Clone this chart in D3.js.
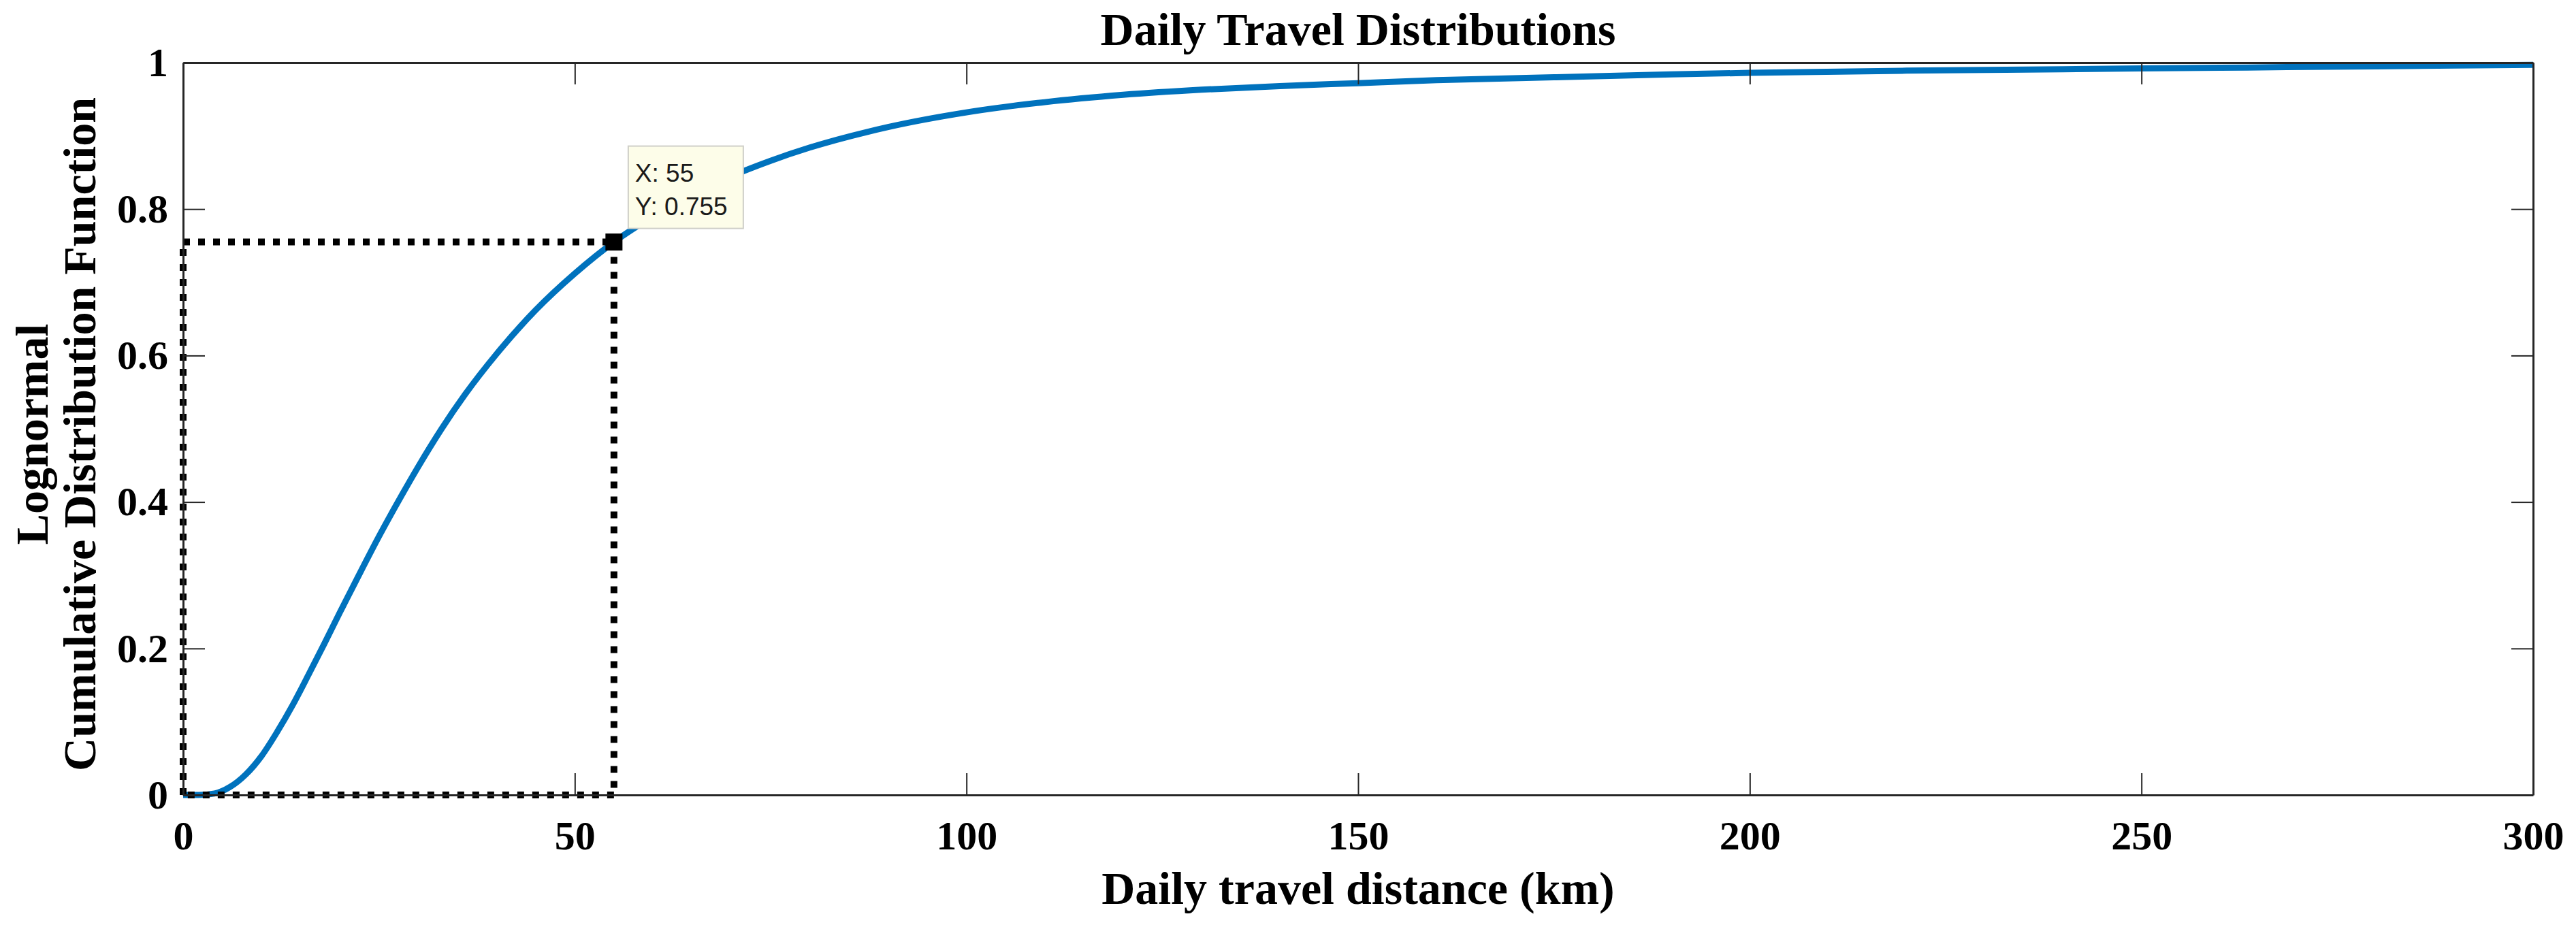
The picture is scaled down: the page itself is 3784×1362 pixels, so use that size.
<!DOCTYPE html>
<html>
<head>
<meta charset="utf-8">
<script src="https://cdn.jsdelivr.net/npm/d3@7"></script>
<style>
  html, body { margin: 0; padding: 0; background: #fff; }
  svg { display: block; }
</style>
</head>
<body>
<svg id="chart" width="3784" height="1362"></svg>
<script>
// ---- data ----
const distanceKm = [0, 2, 4, 6, 8, 10, 12, 14, 16, 18, 20, 22, 25, 28, 30, 33, 36, 40, 45, 50, 55, 60, 65, 70, 75, 80, 90, 100, 110, 120, 130, 140, 150, 160, 175, 190, 200, 220, 240, 260, 280, 300];
const cdfValues  = [0, 0.0001, 0.002, 0.011, 0.028, 0.053, 0.086, 0.123, 0.164, 0.206, 0.249, 0.291, 0.353, 0.411, 0.448, 0.5, 0.547, 0.602, 0.662, 0.712, 0.755, 0.79, 0.82, 0.845, 0.866, 0.884, 0.912, 0.932, 0.946, 0.956, 0.963, 0.968, 0.972, 0.976, 0.980, 0.984, 0.986, 0.989, 0.991, 0.993, 0.995, 0.997];
const xTickValues = [0, 50, 100, 150, 200, 250, 300];
const xTickLabels = ["0", "50", "100", "150", "200", "250", "300"];
const yTickValues = [0, 0.2, 0.4, 0.6, 0.8, 1];
const yTickLabels = ["0", "0.2", "0.4", "0.6", "0.8", "1"];
const markedX = 55;
const markedY = 0.755;
const tipLines = ["X: 55", "Y: 0.755"];
const titleText = "Daily Travel Distributions";
const xLabelText = "Daily travel distance (km)";
const yLabelLines = ["Lognormal", "Cumulative Distribution Function"];

// ---- layout ----
const plot = { left: 269, right: 3721, top: 92, bottom: 1168 };
const serif = "'Liberation Serif', 'Times New Roman', serif";
const sans = "'Liberation Sans', Arial, Helvetica, sans-serif";
const axisColor = "#262626";
const tickLen = 32;

const svg = d3.select("#chart");

const x = d3.scaleLinear().domain([0, 300]).range([plot.left, plot.right]);
const y = d3.scaleLinear().domain([0, 1]).range([plot.bottom, plot.top]);

// curve
const line = d3.line()
  .x((d, i) => x(distanceKm[i]))
  .y((d, i) => y(cdfValues[i]))
  .curve(d3.curveMonotoneX);

svg.append("path")
  .datum(cdfValues)
  .attr("d", line)
  .attr("fill", "none")
  .attr("stroke", "#0072BD")
  .attr("stroke-width", 9)
  .attr("stroke-linejoin", "round");

// dotted rectangle around the marked point
const dotted = svg.append("g")
  .attr("stroke", "#000")
  .attr("stroke-width", 10)
  .attr("stroke-dasharray", "10,12")
  .attr("fill", "none");
const rectPts = [[0, 0], [0, markedY], [markedX, markedY], [markedX, 0], [0, 0]];
for (let i = 0; i < rectPts.length - 1; i++) {
  dotted.append("line")
    .attr("x1", x(rectPts[i][0])).attr("y1", y(rectPts[i][1]))
    .attr("x2", x(rectPts[i + 1][0])).attr("y2", y(rectPts[i + 1][1]));
}

// axes (MATLAB-like box with inward ticks)
const axBottom = d3.axisBottom(x).tickValues(xTickValues).tickFormat((d, i) => xTickLabels[i]).tickSizeInner(-tickLen).tickSizeOuter(0).tickPadding(37);
const axTop = d3.axisTop(x).tickValues(xTickValues).tickFormat("").tickSizeInner(-tickLen).tickSizeOuter(0);
const axLeft = d3.axisLeft(y).tickValues(yTickValues).tickFormat((d, i) => yTickLabels[i]).tickSizeInner(-tickLen).tickSizeOuter(0).tickPadding(22);
const axRight = d3.axisRight(y).tickValues(yTickValues).tickFormat("").tickSizeInner(-tickLen).tickSizeOuter(0);

function styleAxis(g) {
  g.select(".domain").attr("stroke", axisColor).attr("stroke-width", 3);
  g.selectAll(".tick line").attr("stroke", axisColor).attr("stroke-width", 2);
  g.selectAll(".tick text")
    .attr("fill", "#000")
    .style("font-family", serif)
    .style("font-weight", "bold")
    .style("font-size", "60px");
}

svg.append("g").attr("transform", `translate(0,${plot.bottom})`).call(axBottom).call(styleAxis);
svg.append("g").attr("transform", `translate(0,${plot.top})`).call(axTop).call(styleAxis);
svg.append("g").attr("transform", `translate(${plot.left},0)`).call(axLeft).call(styleAxis);
svg.append("g").attr("transform", `translate(${plot.right},0)`).call(axRight).call(styleAxis);

// marker
const mx = x(markedX), my = y(markedY);
svg.append("rect")
  .attr("x", mx - 12.5).attr("y", my - 12.5)
  .attr("width", 25).attr("height", 25)
  .attr("fill", "#000");

// datatip
const tip = svg.append("g").attr("transform", `translate(${mx + 21},${my - 141})`);
tip.append("rect")
  .attr("x", 0).attr("y", 0).attr("width", 169).attr("height", 121)
  .attr("fill", "#FDFDE9").attr("stroke", "#CFCFC8").attr("stroke-width", 2);
tip.selectAll("text").data(tipLines).join("text")
  .attr("x", 10)
  .attr("y", (d, i) => 52 + i * 49)
  .attr("fill", "#1a1a1a")
  .style("font-family", sans)
  .style("font-size", "37px")
  .text(d => d);

// title
svg.append("text")
  .attr("x", (plot.left + plot.right) / 2)
  .attr("y", 66)
  .attr("text-anchor", "middle")
  .style("font-family", serif)
  .style("font-weight", "bold")
  .style("font-size", "68px")
  .attr("fill", "#000")
  .text(titleText);

// x label
svg.append("text")
  .attr("x", (plot.left + plot.right) / 2)
  .attr("y", 1328)
  .attr("text-anchor", "middle")
  .style("font-family", serif)
  .style("font-weight", "bold")
  .style("font-size", "68px")
  .attr("fill", "#000")
  .text(xLabelText);

// y label (two lines)
const yl = svg.append("text")
  .attr("transform", `translate(0,${(plot.top + plot.bottom) / 2 + 8}) rotate(-90)`)
  .attr("text-anchor", "middle")
  .style("font-family", serif)
  .style("font-weight", "bold")
  .style("font-size", "68px")
  .attr("fill", "#000");
yl.selectAll("tspan").data(yLabelLines).join("tspan")
  .attr("x", 0)
  .attr("y", (d, i) => 70 + i * 70)
  .text(d => d);
</script>
</body>
</html>
